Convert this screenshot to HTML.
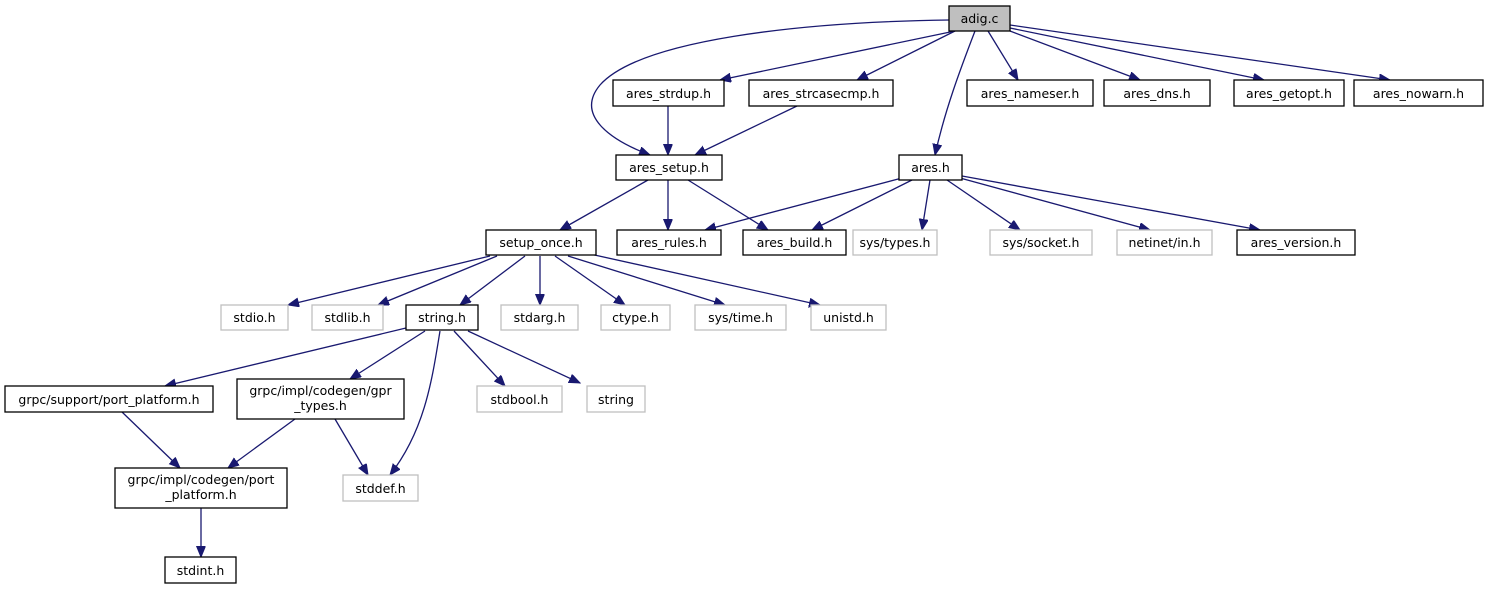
<!DOCTYPE html>
<html><head><meta charset="utf-8"><style>
html,body{margin:0;padding:0;background:#fff;}
svg text{font-family:"DejaVu Sans","Liberation Sans",sans-serif;font-size:12.5px;fill:#000;text-anchor:middle;}
.b{fill:#fff;stroke:#000;stroke-width:1.3;}
.g{fill:#fff;stroke:#bfbfbf;stroke-width:1.3;}
.e{fill:none;stroke:#191970;stroke-width:1.3;}
</style></head><body>
<svg width="1492" height="589" viewBox="0 0 1492 589" xmlns="http://www.w3.org/2000/svg">
<defs><marker id="a" markerUnits="userSpaceOnUse" markerWidth="12" markerHeight="10" refX="11" refY="4.5" orient="auto"><path d="M0,0 L11,4.5 L0,9 Z" fill="#191970" stroke="#191970"/></marker></defs>
<g marker-end="url(#a)">
<path class="e" d="M949,20 C800,22 640,40 600,85 C575,115 610,140 650,155"/>
<path class="e" d="M955,31 L720,80"/>
<path class="e" d="M955,31 L857,80"/>
<path class="e" d="M975,31 C960,70 945,110 935,155"/>
<path class="e" d="M988,31 L1018,80"/>
<path class="e" d="M1010,31 L1140,80"/>
<path class="e" d="M1010,28 L1264,80"/>
<path class="e" d="M1010,25 L1390,80"/>
<path class="e" d="M668,106 L668,155"/>
<path class="e" d="M797,106 L695,155"/>
<path class="e" d="M648,180 L560,230"/>
<path class="e" d="M668,180 L668,230"/>
<path class="e" d="M688,180 L768,230"/>
<path class="e" d="M902,178 L705,230"/>
<path class="e" d="M912,180 L812,230"/>
<path class="e" d="M930,180 L922,230"/>
<path class="e" d="M947,180 L1020,230"/>
<path class="e" d="M960,178 L1150,230"/>
<path class="e" d="M962,176 L1260,230"/>
<path class="e" d="M490,256 L288,305"/>
<path class="e" d="M497,256 L378,305"/>
<path class="e" d="M525,256 L460,305"/>
<path class="e" d="M540,256 L540,305"/>
<path class="e" d="M555,256 L625,305"/>
<path class="e" d="M568,256 L725,305"/>
<path class="e" d="M590,254 L820,305"/>
<path class="e" d="M406,328 L165,386"/>
<path class="e" d="M425,331 L350,379"/>
<path class="e" d="M440,331 C432,380 425,430 390,475"/>
<path class="e" d="M454,331 L505,386"/>
<path class="e" d="M468,331 L580,383"/>
<path class="e" d="M122,412 L180,468"/>
<path class="e" d="M295,419 L228,468"/>
<path class="e" d="M335,419 L368,475"/>
<path class="e" d="M201,508 L201,557"/>
</g>
<rect x="949" y="6" width="61" height="25" fill="#bfbfbf" stroke="#000" stroke-width="1.3"/><text x="979.5" y="23">adig.c</text>
<rect class="b" x="613" y="80" width="111" height="26"/><text x="668.5" y="98">ares_strdup.h</text>
<rect class="b" x="749" y="80" width="144" height="26"/><text x="821" y="98">ares_strcasecmp.h</text>
<rect class="b" x="967" y="80" width="126" height="26"/><text x="1030" y="98">ares_nameser.h</text>
<rect class="b" x="1104" y="80" width="106" height="26"/><text x="1157" y="98">ares_dns.h</text>
<rect class="b" x="1234" y="80" width="110" height="26"/><text x="1289" y="98">ares_getopt.h</text>
<rect class="b" x="1354" y="80" width="129" height="26"/><text x="1418.5" y="98">ares_nowarn.h</text>
<rect class="b" x="616" y="155" width="106" height="25"/><text x="669" y="172">ares_setup.h</text>
<rect class="b" x="899" y="155" width="63" height="25"/><text x="930.5" y="172">ares.h</text>
<rect class="b" x="486" y="230" width="110" height="25"/><text x="541" y="247">setup_once.h</text>
<rect class="b" x="617" y="230" width="104" height="25"/><text x="669" y="247">ares_rules.h</text>
<rect class="b" x="743" y="230" width="103" height="25"/><text x="794.5" y="247">ares_build.h</text>
<rect class="g" x="853" y="230" width="84" height="25"/><text x="895" y="247">sys/types.h</text>
<rect class="g" x="990" y="230" width="102" height="25"/><text x="1041" y="247">sys/socket.h</text>
<rect class="g" x="1117" y="230" width="95" height="25"/><text x="1164.5" y="247">netinet/in.h</text>
<rect class="b" x="1237" y="230" width="118" height="25"/><text x="1296" y="247">ares_version.h</text>
<rect class="g" x="221" y="305" width="67" height="25"/><text x="254.5" y="322">stdio.h</text>
<rect class="g" x="312" y="305" width="71" height="25"/><text x="347.5" y="322">stdlib.h</text>
<rect class="b" x="406" y="305" width="72" height="25"/><text x="442" y="322">string.h</text>
<rect class="g" x="501" y="305" width="77" height="25"/><text x="539.5" y="322">stdarg.h</text>
<rect class="g" x="601" y="305" width="69" height="25"/><text x="635.5" y="322">ctype.h</text>
<rect class="g" x="695" y="305" width="91" height="25"/><text x="740.5" y="322">sys/time.h</text>
<rect class="g" x="811" y="305" width="75" height="25"/><text x="848.5" y="322">unistd.h</text>
<rect class="b" x="5" y="386" width="208" height="26"/><text x="109" y="404">grpc/support/port_platform.h</text>
<rect class="b" x="237" y="379" width="167" height="40"/><text x="320.5" y="395">grpc/impl/codegen/gpr</text><text x="320.5" y="410">_types.h</text>
<rect class="g" x="477" y="386" width="85" height="26"/><text x="519.5" y="404">stdbool.h</text>
<rect class="g" x="587" y="386" width="58" height="26"/><text x="616" y="404">string</text>
<rect class="b" x="115" y="468" width="172" height="40"/><text x="201" y="484">grpc/impl/codegen/port</text><text x="201" y="499">_platform.h</text>
<rect class="g" x="343" y="475" width="75" height="26"/><text x="380.5" y="493">stddef.h</text>
<rect class="b" x="165" y="557" width="71" height="26"/><text x="200.5" y="575">stdint.h</text>
</svg>
</body></html>
